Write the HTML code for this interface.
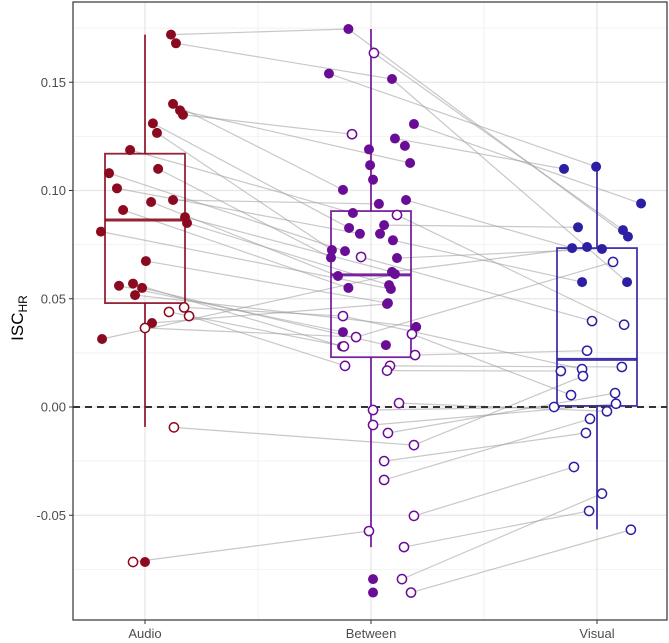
<!DOCTYPE html>
<html><head><meta charset="utf-8"><style>
body{margin:0;background:#fff;}
svg{display:block;font-family:"Liberation Sans",sans-serif;}
</style></head><body>
<svg id="chart" width="669" height="643">
<g id="grid"></g>
<g id="segs"></g>
<g id="boxes"></g>
<g id="ref"></g>
<g id="pts"></g>
<g id="axes"></g>
<text transform="translate(23,318) rotate(-90)" text-anchor="middle" font-size="17" fill="#000">ISC<tspan font-size="12" dy="4">HR</tspan></text>
</svg>
<script>
const categories = ["Audio","Between","Visual"];
const colors = ["#8b0a1f","#6a0d96","#2d1fa3"];
const yTicks = [0.15,0.10,0.05,0.00,-0.05];
const yTickLabels = ["0.15","0.10","0.05","0.00","-0.05"];
// box stats: [lowerWhisker, q1, median, q3, upperWhisker]
const boxAudio = [-0.0092,0.048,0.0864,0.117,0.172];
const boxBetween = [-0.0647,0.023,0.061,0.0905,0.1746];
const boxVisual = [-0.0565,0.0005,0.022,0.0734,0.111];
// points: [jitter (category units), value, filled(1)/open(0)]
const audioPts = [[.115,.172,1],[.137,.168,1],[.124,.140,1],[.155,.137,1],[.168,.135,1],[.035,.131,1],[.053,.1266,1],[-.066,.1187,1],[-.159,.108,1],[-.124,.101,1],[.058,.110,1],[.027,.0947,1],[.124,.0956,1],[-.097,.091,1],[.177,.0877,1],[.186,.085,1],[-.195,.081,1],[.004,.0674,1],[-.115,.056,1],[-.053,.057,1],[-.013,.055,1],[-.044,.0517,1],[.031,.0388,1],[-.19,.0314,1],[0,-.0716,1],[.173,.046,0],[.106,.0439,0],[.195,.042,0],[0,.0365,0],[.128,-.0094,0],[-.053,-.0716,0]];
const betweenPts = [[-.10,.1746,1],[-.186,.154,1],[.093,.1515,1],[.19,.1307,1],[.106,.124,1],[.15,.1206,1],[-.009,.119,1],[-.004,.1117,1],[.173,.1127,1],[.009,.105,1],[-.124,.1003,1],[.035,.0938,1],[.155,.0956,1],[-.08,.0896,1],[-.097,.0827,1],[-.049,.080,1],[.058,.084,1],[.04,.080,1],[.097,.077,1],[-.173,.0725,1],[-.177,.069,1],[-.115,.072,1],[.115,.0688,1],[-.146,.0605,1],[.093,.0624,1],[.106,.0614,1],[.08,.0563,1],[.088,.0545,1],[-.10,.055,1],[.075,.048,1],[.071,.0476,1],[.2,.037,1],[-.124,.0346,1],[-.128,.028,1],[.066,.0286,1],[.009,-.0795,1],[.009,-.0857,1],
[.013,.1635,0],[-.084,.126,0],[.115,.0887,0],[-.044,.0693,0],[-.124,.042,0],[-.066,.0323,0],[.181,.0337,0],[-.12,.028,0],[.195,.024,0],[-.115,.019,0],[.084,.019,0],[.071,.0168,0],[.124,.0018,0],[.009,-.0014,0],[.009,-.0083,0],[.075,-.012,0],[.19,-.0176,0],[.058,-.025,0],[.058,-.0337,0],[.19,-.0503,0],[-.009,-.0573,0],[.146,-.0647,0],[.137,-.0795,0],[.177,-.0857,0]];
const visualPts = [[-.146,.110,1],[-.004,.111,1],[.195,.094,1],[-.084,.083,1],[.115,.0817,1],[.137,.0787,1],[-.11,.0734,1],[-.044,.0739,1],[.022,.073,1],[-.066,.0577,1],[.133,.0577,1],
[.071,.067,0],[-.022,.0397,0],[.12,.038,0],[-.044,.026,0],[-.16,.0166,0],[-.066,.0175,0],[-.062,.0143,0],[.11,.0185,0],[-.115,.0055,0],[.08,.0064,0],[.084,.0015,0],[-.19,0,0],[.044,-.002,0],[-.031,-.0055,0],[-.049,-.012,0],[-.102,-.0277,0],[.022,-.040,0],[-.035,-.048,0],[.15,-.0567,0]];
// subject connections (point indices)
const linksAB = [[0,0],[1,2],[2,10],[3,8],[4,38],[5,14],[6,19],[7,13],[8,21],[9,15],[10,20],[11,23],[12,11],[13,28],[14,24],[15,26],[16,27],[17,29],[18,32],[19,33],[20,34],[21,31],[22,30],[23,25],[25,41],[26,44],[27,46],[28,42],[29,53],[30,57]];
const linksBV = [[0,5],[37,4],[2,10],[1,1],[3,2],[4,0],[12,6],[16,3],[18,9],[22,8],[24,7],[39,13],[41,16],[43,19],[45,14],[47,18],[48,15],[49,23],[50,22],[51,21],[52,20],[53,17],[55,24],[54,25],[56,26],[58,28],[59,27],[60,29],[40,12],[42,11]];

const NS="http://www.w3.org/2000/svg";
const L=73,R=667,T=2,B=620;
const xC=i=>145+i*226;
const xS=(i,j)=>xC(i)+j*226;
const yS=v=>407-2165*v;
function mk(tag,attrs,parent){const e=document.createElementNS(NS,tag);for(const k in attrs)e.setAttribute(k,attrs[k]);parent.appendChild(e);return e;}
const grid=document.getElementById('grid');
mk('rect',{x:L,y:T,width:R-L,height:B-T,fill:'#fff'},grid);
[0.175,0.125,0.075,0.025,-0.025,-0.075].forEach(v=>{const e=mk('line',{x1:L,x2:R,y1:yS(v),y2:yS(v),stroke:'#f2f2f2','stroke-width':1},grid);

});
[0.5,1.5].forEach(i=>{const e=mk('line',{x1:xC(i),x2:xC(i),y1:T,y2:B,stroke:'#f2f2f2','stroke-width':1},grid);

});
yTicks.forEach(v=>{const e=mk('line',{x1:L,x2:R,y1:yS(v),y2:yS(v),stroke:'#e6e6e6','stroke-width':1.3},grid);

});
categories.forEach((c,i)=>{const e=mk('line',{x1:xC(i),x2:xC(i),y1:T,y2:B,stroke:'#e6e6e6','stroke-width':1.3},grid);

});

const groups=[audioPts,betweenPts,visualPts];
const segs=document.getElementById('segs');
function link(g1,g2,pairs){pairs.forEach(p=>{const a=groups[g1][p[0]],b=groups[g2][p[1]];if(!a||!b)return;
const e=mk('line',{x1:xS(g1,a[0]),y1:yS(a[1]),x2:xS(g2,b[0]),y2:yS(b[1]),stroke:'#9a9a9a','stroke-opacity':0.55,'stroke-width':1.2},segs);

});}
link(0,1,linksAB);link(1,2,linksBV);

const boxesG=document.getElementById('boxes');
[boxAudio,boxBetween,boxVisual].forEach((s,i)=>{const c=colors[i],x=xC(i),hw=40;
const g=mk('g',{stroke:c,'stroke-width':1.8,fill:'none','stroke-opacity':0.9},boxesG);


mk('line',{x1:x,x2:x,y1:yS(s[4]),y2:yS(s[3])},g);
mk('line',{x1:x,x2:x,y1:yS(s[1]),y2:yS(s[0])},g);
mk('rect',{x:x-hw,y:yS(s[3]),width:2*hw,height:yS(s[1])-yS(s[3])},g);
mk('line',{x1:x-hw,x2:x+hw,y1:yS(s[2]),y2:yS(s[2]),'stroke-width':3},g);});

const ref=document.getElementById('ref');
mk('line',{x1:L,x2:R,y1:yS(0),y2:yS(0),stroke:'#333','stroke-width':2,'stroke-dasharray':'7,5'},ref);

const pts=document.getElementById('pts');
groups.forEach((arr,i)=>{arr.forEach(p=>{const e=mk('circle',{cx:xS(i,p[0]),cy:yS(p[1]),r:p[2]?5:4.6,fill:p[2]?colors[i]:'#fff',stroke:colors[i],'stroke-width':p[2]?0:1.5},pts);

});});

const axes=document.getElementById('axes');
mk('rect',{x:L,y:T,width:R-L,height:B-T,fill:'none',stroke:'#333','stroke-width':1.2},axes);
yTicks.forEach((v,k)=>{mk('line',{x1:L-4,x2:L,y1:yS(v),y2:yS(v),stroke:'#333'},axes);
const t=mk('text',{x:L-7,y:yS(v)+4.5,'text-anchor':'end','font-size':13,fill:'#4d4d4d'},axes);t.textContent=yTickLabels[k];

});
categories.forEach((c,i)=>{mk('line',{x1:xC(i),x2:xC(i),y1:B,y2:B+4,stroke:'#333'},axes);
const t=mk('text',{x:xC(i),y:B+18,'text-anchor':'middle','font-size':13,fill:'#4d4d4d'},axes);t.textContent=c;

});
</script>
</body></html>
